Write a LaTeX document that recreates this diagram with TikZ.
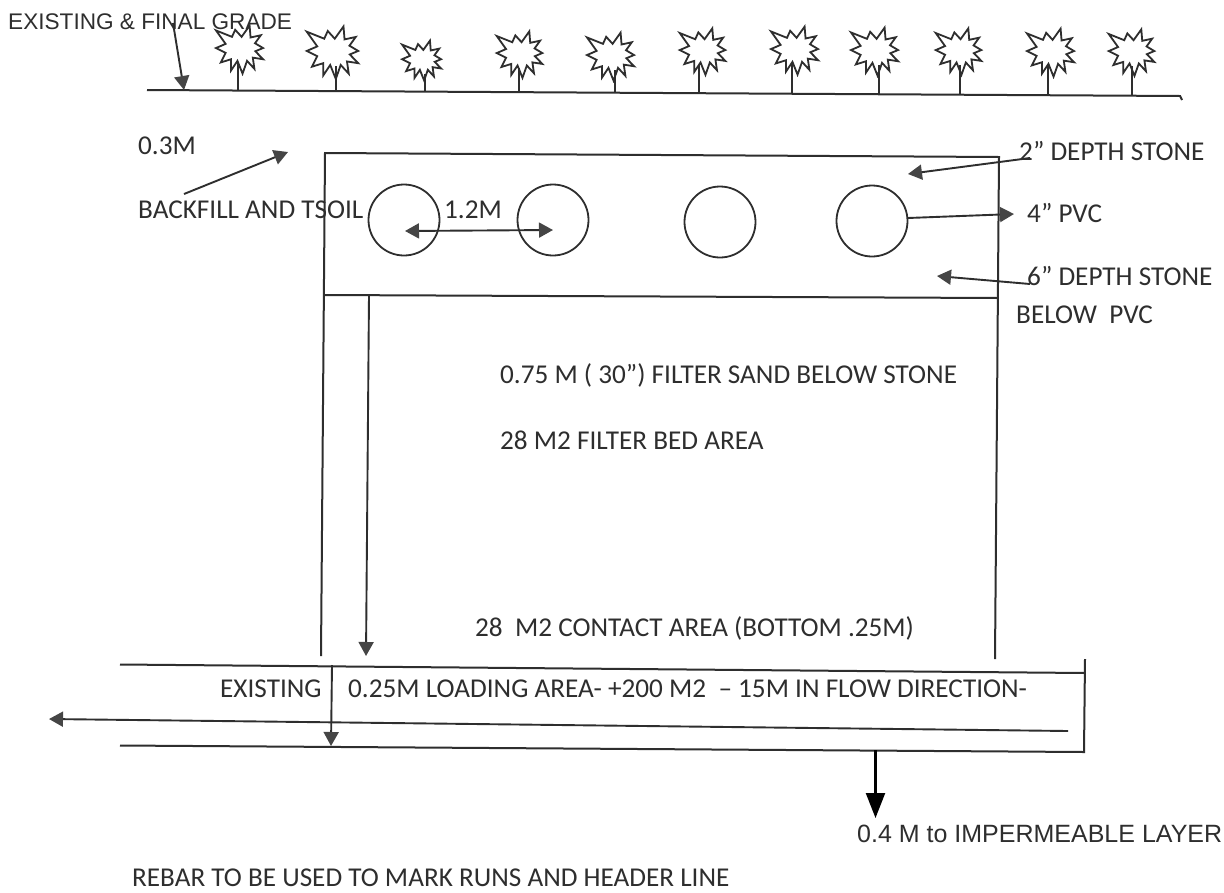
\documentclass[tikz,border=0pt]{standalone}
\usepackage{fontspec}
\setmainfont{Carlito}
\newfontfamily\arialfont{Liberation Sans}
\usetikzlibrary{arrows.meta}
\definecolor{ink}{HTML}{2E2E2E}
\definecolor{headc}{HTML}{454545}
\tikzset{
  x=1pt,y=-1pt,
  wall/.style={draw=ink,line width=2pt},
  leader/.style={draw=ink,line width=1.9pt,-{Triangle[length=14pt,width=15pt,color=headc]}},
  twoway/.style={draw=ink,line width=1.9pt,{Triangle[length=14pt,width=15pt,color=headc]}-{Triangle[length=14pt,width=15pt,color=headc]}},
  pipe/.style={draw=ink,line width=1.8pt,circle,minimum size=71pt,inner sep=0pt},
  lab/.style={anchor=base west,inner sep=0pt,text=ink,font=\fontsize{27.2pt}{30pt}\selectfont},
  arlab/.style={anchor=base west,inner sep=0pt,text=ink,font=\arialfont\fontsize{25pt}{28pt}\selectfont},
  burst/.pic={
    \draw[draw=ink,line width=1.8pt,line join=miter,miter limit=6]
      (30,-73)--(33,-36)--(65,-43)--(47,-18)--(72,-3)--(48,7)--(72,32)--(40,27)--(45,62)--(22,37)--(8,77)--(-8,37)--(-28,67)--(-28,32)--(-60,42)--(-45,12)--(-75,-3)--(-45,-16)--(-75,-58)--(-25,-38)--(-15,-60)--(5,-38)--cycle;
  }
}
\begin{document}
\begin{tikzpicture}
\useasboundingbox (0,0) rectangle (1224,892);
\fill[white] (0,0) rectangle (1224,892);
% ground and trees
\coordinate (gl) at (147,90);
\coordinate (gr) at (1180,96);
\coordinate (gt) at (1182,100);
\draw[wall] (gl) -- (gr) -- (gt);
\foreach \i/\cx/\cy/\s/\sx/\gy in {
  1/240/49/.32/238/90.5, 2/333/52/.35/336/91, 3/422/60/.265/425/91.6,
  4/520/54/.31/519/92, 5/611/56/.32/615/92.7, 6/703/51/.31/699/93,
  7/795/50/.32/792/93.7, 8/875/51/.32/879/94, 9/959/51/.31/960/94.7,
  10/1051/52/.32/1048/95, 11/1132/52/.31/1132/95.7}{
  \pic[scale=\s] at (\cx,\cy) {burst};
  \coordinate (st\i) at (\sx,\cy+14);
  \coordinate (sb\i) at (\sx,\gy);
  \draw[draw=ink,line width=1.8pt] (st\i) -- (sb\i);
}
% filter box
\coordinate (tl) at (325,153);
\coordinate (tr) at (999,157);
\coordinate (ml) at (325,295);
\coordinate (mr) at (998,298);
\coordinate (bl) at (321,656);
\coordinate (br) at (995,659);
\draw[wall] (bl) -- (tl) -- (tr) -- (br);
\draw[wall] (ml) -- (mr);
% pipes
\node[pipe] (p1) at (404,220) {};
\node[pipe] (p2) at (553,220) {};
\node[pipe] (p3) at (720,222) {};
\node[pipe] (p4) at (872,221) {};
% base layer
\coordinate (ll) at (120,664.5);
\coordinate (lr) at (1085,673);
\coordinate (lt) at (1085,659);
\coordinate (lb) at (1084,752);
\coordinate (bbl) at (120,745.5);
\draw[wall] (ll) -- (lr);
\draw[wall] (lt) -- (lb) -- (bbl);
% leaders
\coordinate (a1s) at (173,23);   \coordinate (a1e) at (184,90);
\coordinate (a2s) at (184,194);  \coordinate (a2e) at (288,152);
\coordinate (a3s) at (405,231);  \coordinate (a3e) at (553,230);
\coordinate (a4s) at (1030,158); \coordinate (a4e) at (908,174);
\coordinate (a5s) at (908,218);  \coordinate (a5e) at (1014,214);
\coordinate (a6s) at (1030,284); \coordinate (a6e) at (937,276);
\coordinate (a7s) at (369,295);  \coordinate (a7e) at (366,656);
\coordinate (a8s) at (1068,731); \coordinate (a8e) at (49,719);
\coordinate (a9s) at (332,665);  \coordinate (a9e) at (331,746);
\coordinate (a10s) at (875.5,750); \coordinate (a10e) at (875.5,818);
\draw[leader] (a1s) -- (a1e);
\draw[leader] (a2s) -- (a2e);
\draw[twoway] (a3s) -- (a3e);
\draw[leader] (a4s) -- (a4e);
\draw[leader] (a5s) -- (a5e);
\draw[leader] (a6s) -- (a6e);
\draw[leader] (a7s) -- (a7e);
\draw[leader] (a8s) -- (a8e);
\draw[leader] (a9s) -- (a9e);
\draw[draw=black,line width=2.2pt,-{Triangle[length=25pt,width=19pt,color=black]}] (a10s) -- (a10e);
% labels
\node[arlab,font=\arialfont\fontsize{22.6pt}{26pt}\selectfont] (grade) at (8,29) {EXISTING \& FINAL GRADE};
\node[lab] (backh) at (138,154) {0.3M};
\node[lab] (backf) at (138,218) {BACKFILL AND TSOIL};
\node[lab] (space) at (444,218) {1.2M};
\node[lab] (st2) at (1019,160) {2” DEPTH STONE};
\node[lab] (pvc) at (1027,222) {4” PVC};
\node[lab] (st6) at (1027,285) {6” DEPTH STONE};
\node[lab] (belowp) at (1016,323) {BELOW\ \ PVC};
\node[lab] (sand) at (500,383) {0.75 M ( 30”) FILTER SAND BELOW STONE};
\node[lab] (bed) at (500,449) {28 M2 FILTER BED AREA};
\node[lab] (contact) at (475,636) {28\ \ M2 CONTACT AREA (BOTTOM .25M)};
\node[lab] (exist) at (220,697.5) {EXISTING};
\node[lab] (load) at (348,697.5) {0.25M LOADING AREA- +200 M2\ \ – 15M IN FLOW DIRECTION-};
\node[arlab] (imp) at (857,842) {0.4 M to IMPERMEABLE LAYER};
\node[lab] (rebar) at (132,886) {REBAR TO BE USED TO MARK RUNS AND HEADER LINE};
\end{tikzpicture}
\end{document}
